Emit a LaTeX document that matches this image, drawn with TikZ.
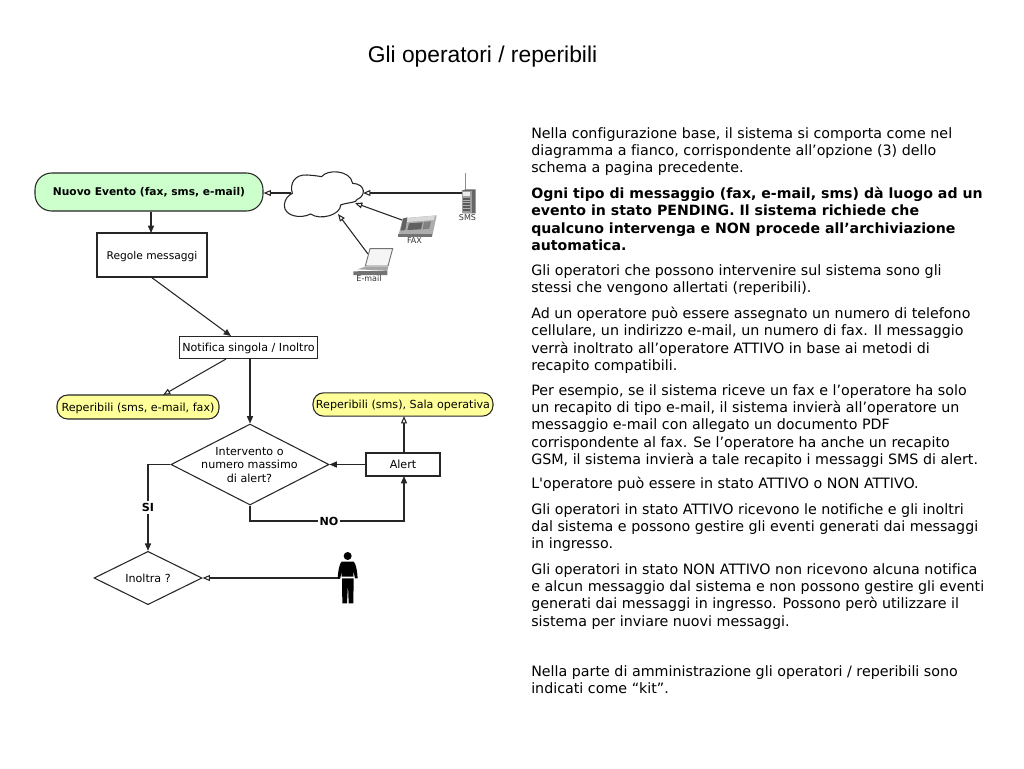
\documentclass[tikz,border=0pt]{standalone}
\usepackage{fontspec}
\usetikzlibrary{arrows.meta,shapes.geometric}
\newfontfamily\bodyf[Ligatures=NoCommon]{DejaVu Sans}
\newfontfamily\titlef{Liberation Sans}
\newcommand{\bodysize}{\fontsize{10.7pt}{12.98pt}\selectfont\bodyf}
\newcommand{\boldsize}{\fontsize{10.6pt}{12.98pt}\selectfont\bodyf\bfseries}
\newcommand{\diagsize}{\fontsize{8.35pt}{10pt}\selectfont\bodyf}
\definecolor{pillgreen}{RGB}{204,255,204}
\definecolor{pillyellow}{RGB}{255,255,153}
\tikzset{
  x=0.75pt,y=-0.75pt,
  line/.style={draw=black!85,line width=0.8pt},
  solidtip/.style={-{Triangle[length=5.5pt,width=4.6pt]}},
  opentip/.style={-{Triangle[open,length=5.5pt,width=4.4pt,fill=white]}},
  box/.style={draw=black!85,line width=0.8pt,fill=white,inner sep=0pt,font=\diagsize,align=center,text height=7.6pt,text depth=1.6pt},
  pill/.style={box,rounded corners=10pt},
  dia/.style={draw=black!85,line width=0.8pt,fill=white,diamond,aspect=1,inner sep=0pt,font=\diagsize,align=center},
  para/.style={anchor=north west,inner sep=0pt,align=left,font=\bodysize},
  small/.style={inner sep=0pt,font=\fontsize{6pt}{7pt}\selectfont\bodyf,text=black!80},
  lbl/.style={inner sep=1.5pt,fill=white,font=\bfseries\diagsize},
}
\begin{document}
\begin{tikzpicture}
\useasboundingbox (0,0) rectangle (1024,768);
\node[inner sep=0pt,font=\fontsize{17.1pt}{20pt}\selectfont\titlef] (title) at (482.5,57) {Gli operatori / reperibili};

% flow nodes
\node[pill,fill=pillgreen,minimum width=171pt,minimum height=28.5pt,rounded corners=12.5pt,text height=6.2pt,font=\bfseries\fontsize{8pt}{10pt}\selectfont\bodyf] (nuovo) at (149,192) {Nuovo Evento (fax, sms, e-mail)};
\node[box,minimum width=82.5pt,minimum height=33pt,font=\fontsize{8pt}{10pt}\selectfont\bodyf] (regole) at (152,255) {Regole messaggi};
\node[box,minimum width=104pt,minimum height=17pt] (notifica) at (248.5,347.5) {Notifica singola / Inoltro};
\node[pill,fill=pillyellow,minimum width=121.5pt,minimum height=18pt,rounded corners=8pt] (rep1) at (138,407) {Reperibili (sms, e-mail, fax)};
\node[pill,fill=pillyellow,minimum width=135pt,minimum height=17.5pt,rounded corners=8pt] (rep2) at (403,404.5) {Reperibili (sms), Sala operativa};
\node[dia,minimum width=118.5pt,minimum height=60.75pt,aspect=1.95] (interv) at (250,464.5) {};
\node[font=\diagsize,align=center,inner sep=0pt] (intervt) at (249.5,465) {Intervento o\\numero massimo\\di alert?};
\node[dia,minimum width=81pt,minimum height=40pt,aspect=2.03] (inoltra) at (148,578) {Inoltra ?};
\node[box,minimum width=55.5pt,minimum height=17.25pt] (alert) at (403,464.5) {Alert};

% helpers
\coordinate (cloudL) at (291,193);
\coordinate (cloudR) at (363,193);
\coordinate (cloudF) at (355,203);
\coordinate (cloudE) at (338,214);
\coordinate (smsP) at (462,193);
\coordinate (faxP) at (402,220);
\coordinate (mailP) at (368,254);
\coordinate (personP) at (340,578);
\coordinate (a1) at (151,233);
\coordinate (a2) at (151,277);
\coordinate (a3) at (231,336);
\coordinate (a4) at (226,359);
\coordinate (a5) at (163,395);
\coordinate (a6) at (250,359);
\coordinate (turnS) at (148,464.5);
\coordinate (turnN1) at (250,521);
\coordinate (turnN2) at (404,521);
\coordinate (alertB) at (404,476);
\coordinate (alertT) at (404,453);
\coordinate (rep2B) at (404,416);

% connectors
\draw[line,solidtip] (nuovo.south -| a1) -- (a1);
\draw[line,solidtip] (a2) -- (a3);
\draw[line,opentip] (a4) -- (a5);
\draw[line,solidtip] (a6) -- (interv.north);
\draw[line,solidtip] (interv.west) -- (turnS) -- (inoltra.north);
\draw[line,solidtip] (interv.south) -- (turnN1) -- (turnN2) -- (alertB);
\draw[line,solidtip] (alert.west) -- (interv.east);
\draw[line,opentip] (alertT) -- (rep2B);
\draw[line,opentip] (personP) -- (inoltra.east);
\draw[line,opentip] (cloudL) -- (nuovo.east |- cloudL);
\draw[line,opentip] (smsP) -- (cloudR);
\draw[line,opentip] (faxP) -- (cloudF);
\draw[line,opentip] (mailP) -- (cloudE);
\node[lbl] (si) at (148,507.5) {SI};
\node[lbl] (no) at (329,521) {NO};

% cloud
\begin{scope}[shift={(270,160)},x=0.25pt,y=-0.25pt]
\draw[line,fill=white] (67,100) .. controls (58,70) and (75,42) .. (112,45)
 .. controls (128,46) and (145,48) .. (155,50)
 .. controls (170,28) and (240,28) .. (248,70)
 .. controls (288,72) and (288,108) .. (262,118)
 .. controls (262,128) and (228,128) .. (212,135)
 .. controls (212,165) and (150,182) .. (122,162)
 .. controls (90,178) and (42,168) .. (43,135)
 .. controls (44,118) and (55,105) .. (67,100) -- cycle;
\end{scope}

% phone
\begin{scope}[shift={(270,160)},x=0.25pt,y=-0.25pt]
\draw[black!45,line width=1pt] (587,40) -- (587,90);
\fill[black!60] (575,92) -- (588,88) -- (617,88) -- (617,160) -- (580,160) -- cycle;
\fill[black!38] (575,92) rectangle (605,160);
\fill[black!8] (580,96) rectangle (600,108);
\fill[black!65] (580,113) rectangle (600,152);
\foreach \yy in {120,128,136,144}{\draw[black!30,line width=0.4pt] (580,\yy) -- (600,\yy);}
\end{scope}
\node[small] (sms) at (467.5,218) {SMS};

% fax
\begin{scope}[shift={(270,160)},x=0.25pt,y=-0.25pt]
\fill[black!32] (385,228) -- (398,175) -- (500,166) -- (487,228) -- cycle;
\fill[black!15] (412,174) -- (495,167) -- (491,180) -- (410,186) -- cycle;
\fill[black!62] (417,190) -- (458,187) -- (453,208) -- (412,210) -- cycle;
\fill[black!50] (462,186) -- (483,184) -- (478,206) -- (458,208) -- cycle;
\fill[black!62] (399,176) -- (412,172) -- (406,210) -- (392,212) -- cycle;
\fill[black!55] (385,222) rectangle (487,230);
\end{scope}
\node[small] (fax) at (414.5,241) {FAX};

% laptop
\begin{scope}[shift={(270,160)},x=0.25pt,y=-0.25pt]
\draw[black!55,fill=black!4,line width=0.7pt] (286,318) -- (300,266) -- (368,266) -- (354,318) -- cycle;
\fill[black!35] (262,328) -- (286,320) -- (355,320) -- (352,332) -- cycle;
\fill[black!55] (250,334) -- (352,332) -- (352,345) -- (250,345) -- cycle;
\end{scope}
\node[small] (email) at (369,279) {E-mail};

% person
\begin{scope}[shift={(260,380)},x=0.25pt,y=-0.25pt]
\fill[black] (263,528) circle[radius=12];
\fill[black] (245,545) -- (281,545) .. controls (288,550) and (292,575) .. (293,595) -- (285,595) -- (280,572) -- (280,590) -- (245,590) -- (245,572) -- (241,595) -- (233,595) .. controls (234,575) and (238,550) .. (245,545) -- cycle;
\fill[black] (246,595) -- (281,595) -- (280,670) -- (266,670) -- (264,610) -- (261,670) -- (247,670) -- cycle;
\end{scope}

% right column
\node[para] (p1) at (531,127) {Nella configurazione base, il sistema si comporta come nel\\diagramma a fianco, corrispondente all’opzione (3) dello\\schema a pagina precedente.};
\node[para,font=\boldsize] (p2) at (531,187) {Ogni tipo di messaggio (fax, e-mail, sms) dà luogo ad un\\evento in stato PENDING. Il sistema richiede che\\qualcuno intervenga e NON procede all’archiviazione\\automatica.};
\node[para] (p3) at (531,264) {Gli operatori che possono intervenire sul sistema sono gli\\stessi che vengono allertati (reperibili).};
\node[para] (p4) at (531,307) {Ad un operatore può essere assegnato un numero di telefono\\cellulare, un indirizzo e-mail, un numero di fax. Il messaggio\\verrà inoltrato all’operatore ATTIVO in base ai metodi di\\recapito compatibili.};
\node[para] (p5) at (531,384) {Per esempio, se il sistema riceve un fax e l’operatore ha solo\\un recapito di tipo e-mail, il sistema invierà all’operatore un\\messaggio e-mail con allegato un documento PDF\\corrispondente al fax. Se l’operatore ha anche un recapito\\GSM, il sistema invierà a tale recapito i messaggi SMS di alert.};
\node[para] (p6) at (531,477) {L'operatore può essere in stato ATTIVO o NON ATTIVO.};
\node[para] (p7) at (531,503) {Gli operatori in stato ATTIVO ricevono le notifiche e gli inoltri\\dal sistema e possono gestire gli eventi generati dai messaggi\\in ingresso.};
\node[para] (p8) at (531,563) {Gli operatori in stato NON ATTIVO non ricevono alcuna notifica\\e alcun messaggio dal sistema e non possono gestire gli eventi\\generati dai messaggi in ingresso. Possono però utilizzare il\\sistema per inviare nuovi messaggi.};
\node[para] (p9) at (531,665) {Nella parte di amministrazione gli operatori / reperibili sono\\indicati come “kit”.};
\end{tikzpicture}
\end{document}
